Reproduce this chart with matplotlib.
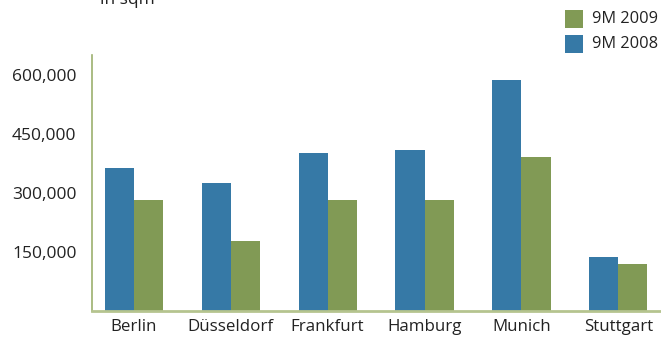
import matplotlib
matplotlib.use("Agg")
import matplotlib.pyplot as plt
import numpy as np
from matplotlib.patches import Rectangle

cities = ["Berlin", "Düsseldorf", "Frankfurt", "Hamburg", "Munich", "Stuttgart"]
values_2008 = [362000, 324000, 402000, 410000, 587000, 137000]
values_2009 = [283000, 177000, 283000, 283000, 392000, 119000]
yticks = [150000, 300000, 450000, 600000]
ytick_labels = ["150,000", "300,000", "450,000", "600,000"]
series_names = ["9M 2009", "9M 2008"]

blue = "#3679a6"
green = "#819a55"

plt.rcParams['font.family'] = ['Open Sans', 'DejaVu Sans']

fig = plt.figure(figsize=(6.61, 3.38), dpi=100)
ax = fig.add_axes([0.139, 0.08, 0.861, 0.757])

x = np.arange(len(cities))
w = 0.3
ax.bar(x - w / 2, values_2008, width=w, color=blue, linewidth=0)
ax.bar(x + w / 2, values_2009, width=w, color=green, linewidth=0)

ax.set_xlim(-0.433, 5.44)
ax.set_ylim(0, 650000)
ax.set_yticks(yticks)
ax.set_yticklabels(ytick_labels, fontsize=12.5, color="#222222")
ax.set_xticks(x)
ax.set_xticklabels(cities, fontsize=12.2, color="#222222")
ax.tick_params(axis="both", length=0)
ax.tick_params(axis="y", pad=11)
ax.tick_params(axis="x", pad=6)

for s in ["top", "right"]:
    ax.spines[s].set_visible(False)
ax.spines["left"].set_color("#9cb06e")
ax.spines["left"].set_linewidth(1.2)
ax.spines["bottom"].set_color("#b5c48f")
ax.spines["bottom"].set_linewidth(2)

fig.text(100 / 661, 1 - 0 / 338, "in sqm", fontsize=12.5, color="#222222", ha="left", va="center")

# legend
for i, (name, col) in enumerate(zip(series_names, [green, blue])):
    y0 = 1 - (28 + 25 * i) / 338
    fig.patches.append(Rectangle((565 / 661, y0), 18 / 661, 18 / 338, transform=fig.transFigure,
                                 facecolor=col, edgecolor="none"))
    fig.text(592 / 661, y0 + 9 / 338, name, fontsize=11.8, color="#222222", ha="left", va="center")

fig.savefig("out.png", dpi=100)
